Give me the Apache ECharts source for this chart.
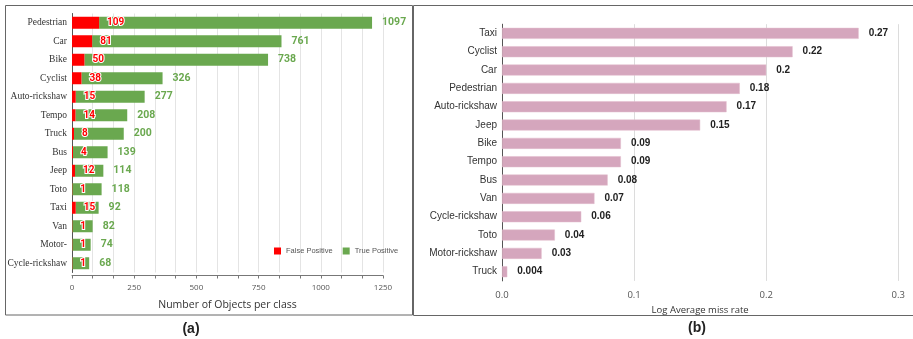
<!DOCTYPE html>
<html>
<head>
<meta charset="utf-8">
<script src="https://cdn.jsdelivr.net/npm/echarts@6/dist/echarts.min.js"></script>
<style>
  html, body { margin: 0; padding: 0; background: #ffffff; }
  #chart { width: 913px; height: 339px; }
</style>
</head>
<body>
<div id="chart"></div>
<script>
// Panel (a): object counts per class
const countCategories = ['Pedestrian', 'Car', 'Bike', 'Cyclist', 'Auto-rickshaw', 'Tempo', 'Truck',
  'Bus', 'Jeep', 'Toto', 'Taxi', 'Van', 'Motor-', 'Cycle-rickshaw'];
const falsePositive = [109, 81, 50, 38, 15, 14, 8, 4, 12, 1, 15, 1, 1, 1];
const truePositive = [1097, 761, 738, 326, 277, 208, 200, 139, 114, 118, 92, 82, 74, 68];
const countTickLabels = [0, 250, 500, 750, 1000, 1250];

// Panel (b): log-average miss rate per class
const missCategories = ['Taxi', 'Cyclist', 'Car', 'Pedestrian', 'Auto-rickshaw', 'Jeep', 'Bike',
  'Tempo', 'Bus', 'Van', 'Cycle-rickshaw', 'Toto', 'Motor-rickshaw', 'Truck'];
const missRate = [0.27, 0.22, 0.2, 0.18, 0.17, 0.15, 0.09, 0.09, 0.08, 0.07, 0.06, 0.04, 0.03, 0.004];
const missTickLabels = [0, 0.1, 0.2, 0.3];

const chart = echarts.init(document.getElementById('chart'), null, { renderer: 'canvas' });

const countMax = countTickLabels[countTickLabels.length - 1];
const countStep = countTickLabels[1] / 3;

const option = {
  animation: false,
  backgroundColor: '#ffffff',
  grid: [
    { left: 72, top: 13.5, width: 311, height: 259 },
    { left: 502, top: 24.2, width: 396.3, height: 256.7 }
  ],
  legend: {
    data: ['False Positive', 'True Positive'],
    left: 274, top: 247, padding: 0,
    itemWidth: 7, itemHeight: 7, itemGap: 10,
    icon: 'rect',
    textStyle: { fontFamily: 'Liberation Sans, Arial', fontSize: 7.5, color: '#555' }
  },
  xAxis: [
    {
      gridIndex: 0, type: 'value', min: 0, max: countMax, interval: countStep,
      offset: 3,
      axisLine: { show: true, lineStyle: { color: '#777', width: 1 } },
      axisTick: { show: true, length: 3, lineStyle: { color: '#777' } },
      splitLine: { show: true, lineStyle: { color: '#e4e4e4' } },
      axisLabel: {
        margin: 8, fontSize: 8, color: '#555', fontFamily: 'Open Sans, Liberation Sans',
        formatter: function (v) {
          const r = Math.round(v);
          return countTickLabels.indexOf(r) >= 0 ? String(r) : '';
        }
      },
      name: 'Number of Objects per class', nameLocation: 'middle', nameGap: 24,
      nameTextStyle: { fontSize: 10.5, color: '#333', fontFamily: 'Open Sans, Liberation Sans' }
    },
    {
      gridIndex: 1, type: 'value', min: 0, max: missTickLabels[missTickLabels.length - 1], interval: 0.1,
      axisLine: { show: false },
      axisTick: { show: false },
      splitLine: { show: true, lineStyle: { color: '#dcdcdc' } },
      axisLabel: {
        margin: 9, fontSize: 9.5, color: '#555', fontFamily: 'Open Sans, Liberation Sans',
        formatter: function (v) { return v.toFixed(1); }
      },
      name: 'Log Average miss rate', nameLocation: 'middle', nameGap: 22,
      nameTextStyle: { fontSize: 9.5, color: '#333', fontFamily: 'Open Sans, Liberation Sans' }
    }
  ],
  yAxis: [
    {
      gridIndex: 0, type: 'category', data: countCategories, inverse: true,
      axisLine: { show: true, lineStyle: { color: '#555', width: 1 } },
      axisTick: { show: false },
      axisLabel: { margin: 5, fontSize: 9.5, color: '#333', fontFamily: 'Liberation Serif, DejaVu Serif, serif' }
    },
    {
      gridIndex: 1, type: 'category', data: missCategories, inverse: true,
      axisLine: { show: true, lineStyle: { color: '#555', width: 1 } },
      axisTick: { show: false },
      axisLabel: { margin: 5, fontSize: 10, color: '#333', fontFamily: 'Liberation Sans, Arial' }
    }
  ],
  series: [
    {
      name: 'False Positive', type: 'bar', stack: 'objects',
      xAxisIndex: 0, yAxisIndex: 0, data: falsePositive, barWidth: 12,
      itemStyle: { color: '#ff0000' },
      label: {
        show: true, position: 'right', distance: 8,
        color: '#ff0000', fontWeight: 'bold', fontSize: 10, fontFamily: 'Roboto, Liberation Sans',
        textBorderColor: '#ffffff', textBorderWidth: 2
      },
      z: 2
    },
    {
      name: 'True Positive', type: 'bar', stack: 'objects',
      xAxisIndex: 0, yAxisIndex: 0, data: truePositive, barWidth: 12,
      itemStyle: { color: '#6aa84f' },
      label: {
        show: true, position: 'right', distance: 10,
        color: '#6aa84f', fontWeight: 'bold', fontSize: 10.5, fontFamily: 'Roboto, Liberation Sans'
      },
      z: 1
    },
    {
      name: 'Miss rate', type: 'bar',
      xAxisIndex: 1, yAxisIndex: 1, data: missRate, barWidth: 11,
      itemStyle: { color: '#d5a6bd', borderColor: '#e2bccd', borderWidth: 0.5 },
      label: {
        show: true, position: 'right', distance: 10,
        color: '#222', fontWeight: 'bold', fontSize: 10, fontFamily: 'Liberation Sans, Arial'
      }
    }
  ],
  graphic: [
    { type: 'rect', shape: { x: 5.5, y: 5.5, width: 407, height: 309.5 },
      style: { fill: 'none', stroke: '#666', lineWidth: 1 }, silent: true },
    { type: 'polyline', shape: { points: [[913, 5.5], [413.5, 5.5], [413.5, 315.5], [913, 315.5]] },
      style: { fill: 'none', stroke: '#666', lineWidth: 1 }, silent: true },
    { type: 'text', x: 191, y: 329,
      style: { text: '(a)', font: 'bold 14px Liberation Sans, Arial', fill: '#222', textAlign: 'center', textVerticalAlign: 'middle' } },
    { type: 'text', x: 697, y: 328,
      style: { text: '(b)', font: 'bold 14px Liberation Sans, Arial', fill: '#222', textAlign: 'center', textVerticalAlign: 'middle' } }
  ]
};

chart.setOption(option);
</script>
</body>
</html>
